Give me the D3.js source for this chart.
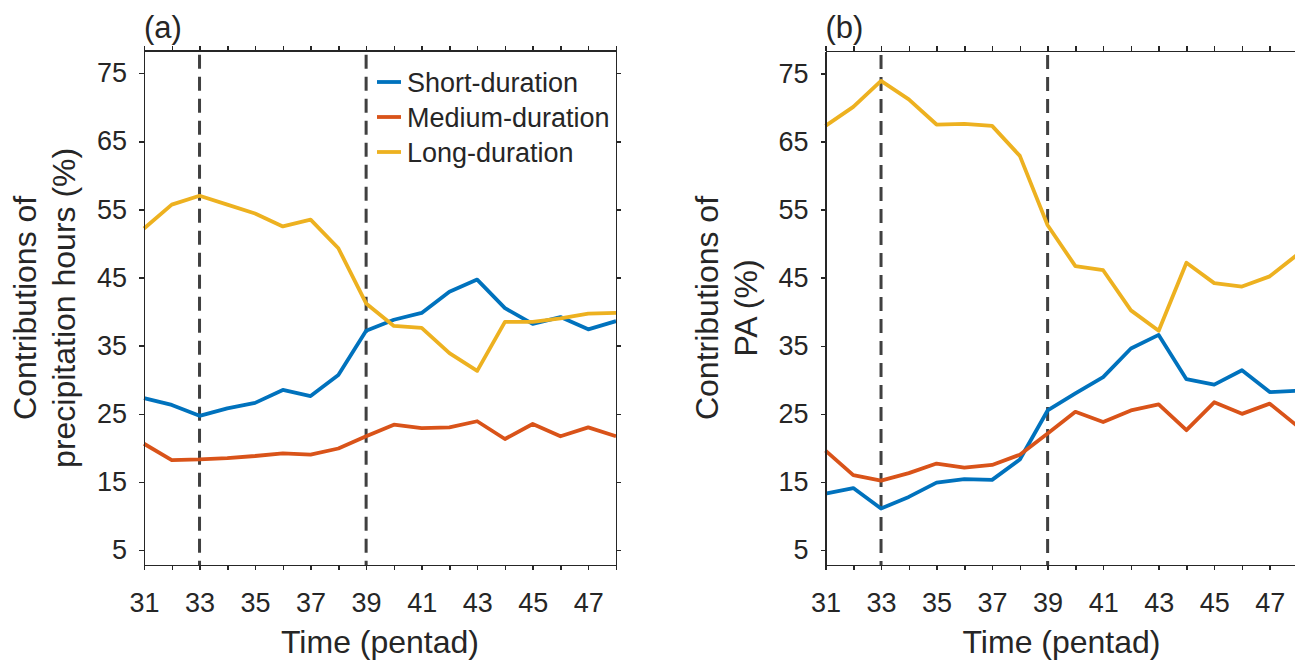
<!DOCTYPE html>
<html>

<head>
  <meta charset="UTF-8">
  <title>contributions-by-duration</title>
  <style type="text/css">
    body {
      margin: 0;
      background: #fff;
    }

    text {
      font-family: "Liberation Sans", Arial, sans-serif;
      fill: #262626;
    }

    .axis path,
    .axis line {
      stroke: #262626;
      stroke-width: 1.5px;
      shape-rendering: crispEdges;
    }

    .series {
      fill: none;
      stroke-width: 3.8px;
      stroke-linejoin: round;
    }

    .split {
      stroke: #404040;
      stroke-width: 3px;
      stroke-dasharray: 14, 8;
    }
  </style>
</head>

<body>
  <div class="svg-zone"></div>
  <script src="https://cdn.jsdelivr.net/npm/d3@7"></script>
  <script type="text/javascript">
    // pentads on the x axis
    var pentads = [31, 32, 33, 34, 35, 36, 37, 38, 39, 40, 41, 42, 43, 44, 45, 46, 47, 48];
    var xTickLabels = [31, 33, 35, 37, 39, 41, 43, 45, 47];
    var yTickLabels = [5, 15, 25, 35, 45, 55, 65, 75];
    var splitPentads = [33, 39];

    var seriesNames = ["Short-duration", "Medium-duration", "Long-duration"];
    var seriesColors = ["#0072BD", "#D95319", "#EDB120"];

    // (a) contributions of precipitation hours (%)
    var hoursShort = [27.3, 26.3, 24.7, 25.8, 26.6, 28.5, 27.6, 30.7, 37.2, 38.8, 39.8, 42.9, 44.7, 40.5, 38.2, 39.2, 37.4, 38.6];
    var hoursMedium = [20.6, 18.2, 18.3, 18.5, 18.8, 19.2, 19.0, 19.9, 21.7, 23.4, 22.9, 23.0, 23.9, 21.3, 23.5, 21.7, 23.0, 21.7];
    var hoursLong = [52.2, 55.7, 57.0, 55.7, 54.4, 52.5, 53.5, 49.3, 41.2, 37.9, 37.6, 33.9, 31.3, 38.5, 38.5, 39.0, 39.7, 39.8];

    // (b) contributions of PA (%)
    var paShort = [13.3, 14.1, 11.1, 12.8, 14.9, 15.4, 15.3, 18.3, 25.5, 28.0, 30.4, 34.6, 36.6, 30.1, 29.3, 31.4, 28.2, 28.4];
    var paMedium = [19.6, 16.0, 15.2, 16.3, 17.7, 17.1, 17.5, 19.0, 22.1, 25.3, 23.8, 25.5, 26.4, 22.6, 26.7, 25.0, 26.5, 23.2];
    var paLong = [67.3, 70.1, 73.9, 71.2, 67.5, 67.6, 67.3, 62.9, 52.7, 46.7, 46.1, 40.2, 37.2, 47.2, 44.2, 43.7, 45.2, 48.4];

    var width = 1295,
      height = 661;

    var svg = d3.select(".svg-zone").append("svg")
      .attr("width", width)
      .attr("height", height);

    function drawPanel(opt) {
      var x = d3.scaleLinear()
        .domain([31, 48])
        .range([opt.left, opt.left + 472]);
      var y = d3.scaleLinear()
        .domain([2.8, 78.3])
        .range([565, opt.top]);

      var g = svg.append("g");

      // dashed split lines
      g.selectAll(".split")
        .data(splitPentads)
        .enter().append("line")
        .attr("class", "split")
        .attr("x1", function (d) { return x(d); })
        .attr("x2", function (d) { return x(d); })
        .attr("y1", y.range()[1] + 4)
        .attr("y2", y.range()[0]);

      var line = d3.line()
        .x(function (d, i) { return x(pentads[i]); })
        .y(function (d) { return y(d); });

      g.selectAll(".series")
        .data(opt.series)
        .enter().append("path")
        .attr("class", "series")
        .attr("stroke", function (d, i) { return seriesColors[i]; })
        .attr("d", function (d) { return line(d); });

      // box axes, ticks pointing out
      var fmtX = function (d) { return xTickLabels.indexOf(d) >= 0 ? d : ""; };
      var bottom = d3.axisBottom(x).tickValues(pentads).tickSize(5).tickPadding(23).tickFormat(fmtX);
      var top = d3.axisTop(x).tickValues(pentads).tickSize(5).tickFormat("");
      var left = d3.axisLeft(y).tickValues(yTickLabels).tickSize(5).tickPadding(12);
      var right = d3.axisRight(y).tickValues(yTickLabels).tickSize(5).tickFormat("");

      [
        [bottom, "translate(0," + y.range()[0] + ")"],
        [top, "translate(0," + y.range()[1] + ")"],
        [left, "translate(" + x.range()[0] + ",0)"],
        [right, "translate(" + x.range()[1] + ",0)"]
      ].forEach(function (a) {
        g.append("g")
          .attr("class", "axis")
          .attr("transform", a[1])
          .call(a[0].tickSizeOuter(0))
          .selectAll("text")
          .style("font-size", "27px")
          .attr("fill", "#262626");
      });
      g.selectAll(".axis .domain").attr("stroke", "#262626");

      // labels
      g.append("text")
        .attr("x", (x.range()[0] + x.range()[1]) / 2)
        .attr("y", 653)
        .attr("text-anchor", "middle")
        .style("font-size", "32px")
        .text("Time (pentad)");

      var yl = g.append("text")
        .attr("transform", "translate(" + (x.range()[0] - 108) + "," + ((y.range()[0] + y.range()[1]) / 2) + ") rotate(-90)")
        .attr("text-anchor", "middle")
        .style("font-size", "32px");
      opt.ylabel.forEach(function (t, i) {
        yl.append("tspan")
          .attr("x", 0)
          .attr("dy", i === 0 ? 0 : 39)
          .text(t);
      });

      g.append("text")
        .attr("x", x.range()[0])
        .attr("y", 38)
        .style("font-size", "31px")
        .text(opt.tag);

      return { x: x, y: y, g: g };
    }

    var pa = drawPanel({
      left: 144,
      top: 50.7,
      series: [hoursShort, hoursMedium, hoursLong],
      ylabel: ["Contributions of", "precipitation hours (%)"],
      tag: "(a)"
    });

    drawPanel({
      left: 825.5,
      top: 51,
      series: [paShort, paMedium, paLong],
      ylabel: ["Contributions of", "PA (%)"],
      tag: "(b)"
    });

    // legend in panel (a)
    var legend = pa.g.selectAll(".legend")
      .data(seriesNames)
      .enter().append("g")
      .attr("class", "legend")
      .attr("transform", function (d, i) { return "translate(377," + (82 + i * 35) + ")"; });

    legend.append("line")
      .attr("x1", 0)
      .attr("x2", 24)
      .attr("stroke", function (d, i) { return seriesColors[i]; })
      .attr("stroke-width", 3.8);

    legend.append("text")
      .attr("x", 30)
      .attr("y", 9.5)
      .style("font-size", "27px")
      .text(function (d) { return d; });
  </script>

</body>

</html>
